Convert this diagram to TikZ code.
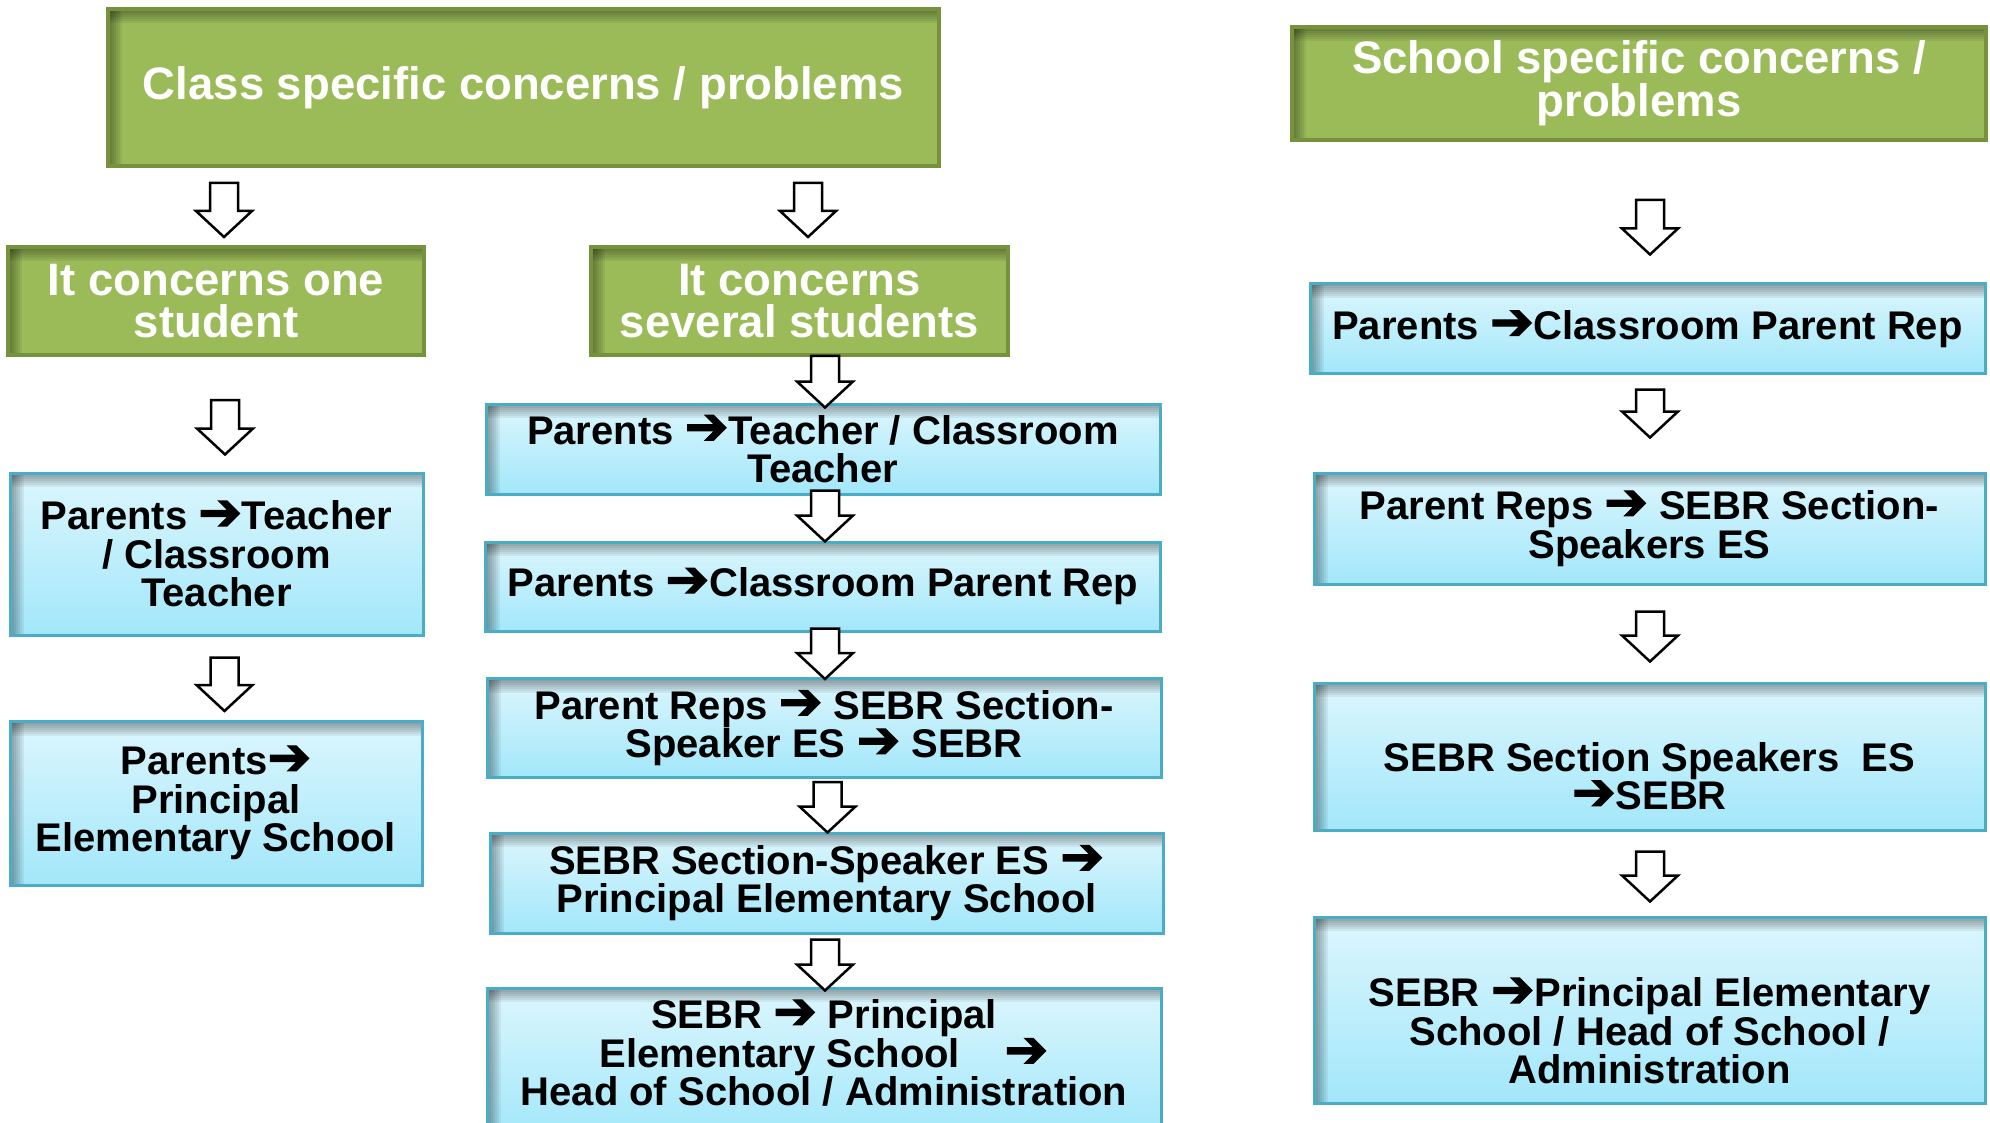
\documentclass[tikz,border=0pt]{standalone}
\usepackage{fontspec}
\setmainfont{Liberation Sans}
\newfontfamily\arrowfont[FakeBold=2.5,Scale=1.3]{DejaVu Sans}
\usetikzlibrary{calc}

\definecolor{greenfill}{HTML}{9BBB59}
\definecolor{greenline}{HTML}{76923C}
\definecolor{blueline}{HTML}{4BACC6}
\definecolor{bluetop}{HTML}{DCF6FD}
\definecolor{bluebot}{HTML}{A2E7FA}

\newcommand{\goarr}{\smash{\arrowfont\mdseries ➔}}

\tikzset{
  innershadow/.style={path picture={
    \foreach \i in {1,...,7}{
      \fill[black, fill opacity=0.06] (path picture bounding box.north west)
        rectangle ([yshift=-2pt*\i]path picture bounding box.north east);
      \fill[black, fill opacity=0.06] (path picture bounding box.north west)
        rectangle ([xshift=2pt*\i]path picture bounding box.south west);
    }}},
  box/.style={rectangle, inner sep=0pt, align=center, innershadow},
  greenbox/.style={box, draw=greenline, line width=4pt, fill=greenfill,
    text=white, font=\fontsize{45.5}{42}\selectfont\bfseries},
  bluebox/.style={box, draw=blueline, line width=3pt, top color=bluetop,
    bottom color=bluebot},
  boxtext/.style={align=center, inner sep=0pt,
    font=\fontsize{40}{38.5}\selectfont\bfseries},
  blockarrow/.style n args={3}{draw=black, line width=2.5pt, fill=white,
    line join=miter,
    to path={let \p1=(\tikztostart), \p2=(\tikztotarget) in
      (\x2+#1pt-14pt,\y1-#2pt) -- (\x2+#1pt+14pt,\y1-#2pt)
      -- (\x2+#1pt+14pt,\y2+#3pt+26pt) -- (\x2+#1pt+28pt,\y2+#3pt+26pt)
      -- (\x2+#1pt,\y2+#3pt) -- (\x2+#1pt-28pt,\y2+#3pt+26pt)
      -- (\x2+#1pt-14pt,\y2+#3pt+26pt) -- cycle}}
}

\begin{document}
\begin{tikzpicture}[x=1pt, y=-1pt]
  \path[use as bounding box, fill=white] (0,0) rectangle (1990,1123);

  % headings
  \node[greenbox, minimum width=831pt, minimum height=157pt] (class)   at (523.5,87.5)
    {Class specific concerns / problems};
  \node[greenbox, minimum width=694pt, minimum height=113pt] (school)  at (1639,83.5)
    {School specific concerns /\\problems};
  \node[greenbox, minimum width=416pt, minimum height=108pt] (one)     at (216,301)
    {It concerns one\\student};
  \node[greenbox, minimum width=417pt, minimum height=108pt] (several) at (799.5,301)
    {It concerns\\several students};

  % one student
  \node[bluebox, boxtext, minimum width=413pt, minimum height=162pt] (p1) at (216.5,554)
    {Parents \goarr Teacher\\/ Classroom\\Teacher};
  \node[bluebox, boxtext, minimum width=412pt, minimum height=164pt] (p2) at (216,803.5)
    {Parents\goarr\\Principal\\Elementary School};

  % several students
  \node[bluebox, boxtext, minimum width=674pt, minimum height=90pt]  (m1) at (823,449)
    {Parents \goarr Teacher / Classroom\\Teacher};
  \node[bluebox, boxtext, minimum width=675pt, minimum height=89pt]  (m2) at (823,586.5)
    {Parents \goarr Classroom Parent Rep};
  \node[bluebox, boxtext, minimum width=674pt, minimum height=99pt]  (m3) at (824,728)
    {Parent Reps \goarr{} SEBR Section-\\Speaker ES \goarr{} SEBR};
  \node[bluebox, boxtext, minimum width=673pt, minimum height=100pt] (m4) at (826.5,883)
    {SEBR Section-Speaker ES \goarr\\Principal Elementary School};
  \node[bluebox, minimum width=674pt, minimum height=150pt] (m5) at (824,1063) {};
  \node[boxtext] (m5t) at (824,1053)
    {SEBR \goarr{} Principal\\Elementary School~~~~\goarr\\Head of School / Administration};

  % school
  \node[bluebox, boxtext, minimum width=675pt, minimum height=90pt]  (r1) at (1647.5,329)
    {Parents \goarr Classroom Parent Rep};
  \node[bluebox, boxtext, minimum width=671pt, minimum height=111pt] (r2) at (1649.5,528.5)
    {Parent Reps \goarr{} SEBR Section-\\Speakers ES};
  \node[bluebox, minimum width=671pt, minimum height=147pt] (r3) at (1649.5,756.5) {};
  \node[boxtext] (r3t) at (1649.5,776)
    {SEBR Section Speakers~~ES\\\goarr SEBR};
  \node[bluebox, minimum width=671pt, minimum height=186pt] (r4) at (1649.5,1010) {};
  \node[boxtext] (r4t) at (1649.5,1031)
    {SEBR \goarr Principal Elementary\\School / Head of School /\\Administration};

  % arrows
  \draw[blockarrow={8}{15}{8}]   (class.south)   to (one.north);
  \draw[blockarrow={8.5}{15}{8}] (class.south)   to (several.north);
  \draw[blockarrow={8.5}{43}{17}] (one.south)    to (p1.north);
  \draw[blockarrow={8.5}{21}{9}]  (p1.south)     to (p2.north);
  \draw[blockarrow={2}{-1}{-5}]   (several.south) to (m1.north);
  \draw[blockarrow={2}{-5}{-1}]   (m1.south)     to (m2.north);
  \draw[blockarrow={1}{-4}{-2}]   (m2.south)     to (m3.north);
  \draw[blockarrow={1}{3}{-1}]    (m3.south)     to (m4.north);
  \draw[blockarrow={1}{5}{-4}]    (m4.south)     to (m5.north);
  \draw[blockarrow={2.5}{58}{28}] (school.south) to (r1.north);
  \draw[blockarrow={0.5}{14}{34}] (r1.south)     to (r2.north);
  \draw[blockarrow={0.5}{26}{20}] (r2.south)     to (r3.north);
  \draw[blockarrow={0.5}{20}{14}] (r3.south)     to (r4.north);
\end{tikzpicture}
\end{document}
